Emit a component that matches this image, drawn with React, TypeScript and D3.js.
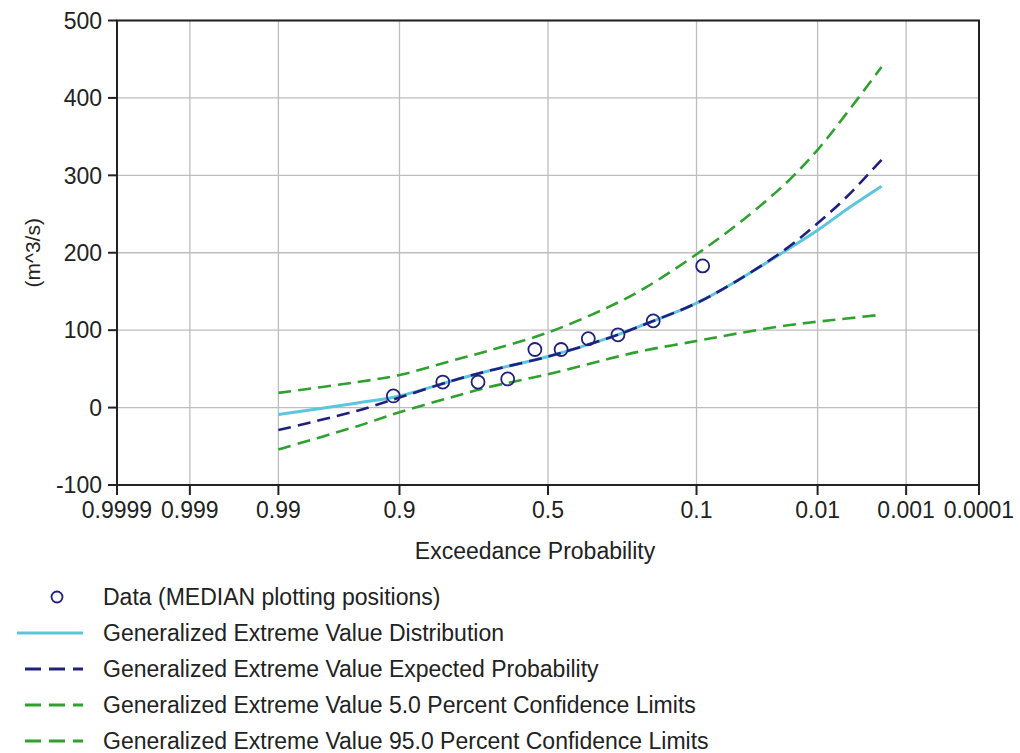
import React from 'react';
import * as d3 from 'd3';

// exceedance probabilities shown on the x axis
const xTicks = [0.9999, 0.999, 0.99, 0.9, 0.5, 0.1, 0.01, 0.001, 0.0001];
const xTickLabels = ['0.9999', '0.999', '0.99', '0.9', '0.5', '0.1', '0.01', '0.001', '0.0001'];
const yTicks = [-100, 0, 100, 200, 300, 400, 500];

// observed data (median plotting positions)
const dataProbs = [0.909, 0.818, 0.727, 0.636, 0.545, 0.455, 0.364, 0.273, 0.182, 0.091];
const dataValues = [15, 33, 33, 37, 75, 75, 89, 94, 112, 183];

// fitted curves
const curveProbs = [0.99, 0.95, 0.9, 0.8, 0.7, 0.5, 0.3, 0.2, 0.1, 0.05, 0.02, 0.01, 0.005, 0.002];
const gevDist = [-9, 6, 15, 34, 47, 66, 90, 108, 135, 165, 203, 229, 256, 286];
const gevExpected = [-29, -4, 13, 34, 47, 66, 90, 108, 135, 165, 205, 238, 272, 320];
const conf5 = [19, 33, 42, 60, 73, 97, 130, 155, 198, 238, 290, 333, 380, 440];
const conf95 = [-54, -24, -6, 13, 26, 43, 63, 74, 86, 96, 106, 111, 115, 120];

const legendLabels = [
  'Data (MEDIAN plotting positions)',
  'Generalized Extreme Value Distribution',
  'Generalized Extreme Value Expected Probability',
  'Generalized Extreme Value 5.0 Percent Confidence Limits',
  'Generalized Extreme Value 95.0 Percent Confidence Limits',
];

const CYAN = '#5cc6dd';
const NAVY = '#20207f';
const GREEN = '#2fa12f';
const FONT = '"Liberation Sans", Arial, sans-serif';

// inverse standard normal CDF (Acklam)
function normInv(p: number): number {
  const a = [-39.69683028665376, 220.9460984245205, -275.9285104469687, 138.357751867269, -30.66479806614716, 2.506628277459239];
  const b = [-54.47609879822406, 161.5858368580409, -155.6989798598866, 66.80131188771972, -13.28068155288572];
  const c = [-0.007784894002430293, -0.3223964580411365, -2.400758277161838, -2.549732539343734, 4.374664141464968, 2.938163982698783];
  const d = [0.007784695709041462, 0.3224671290700398, 2.445134137142996, 3.754408661907416];
  const pl = 0.02425;
  if (p < pl) {
    const q = Math.sqrt(-2 * Math.log(p));
    return (((((c[0] * q + c[1]) * q + c[2]) * q + c[3]) * q + c[4]) * q + c[5]) / ((((d[0] * q + d[1]) * q + d[2]) * q + d[3]) * q + 1);
  }
  if (p > 1 - pl) {
    const q = Math.sqrt(-2 * Math.log(1 - p));
    return -(((((c[0] * q + c[1]) * q + c[2]) * q + c[3]) * q + c[4]) * q + c[5]) / ((((d[0] * q + d[1]) * q + d[2]) * q + d[3]) * q + 1);
  }
  const q = p - 0.5;
  const r = q * q;
  return (((((a[0] * r + a[1]) * r + a[2]) * r + a[3]) * r + a[4]) * r + a[5]) * q / (((((b[0] * r + b[1]) * r + b[2]) * r + b[3]) * r + b[4]) * r + 1);
}

const left = 117, right = 979, top = 20.5, bottom = 485;

const zScale = d3.scaleLinear()
  .domain([normInv(1 - 0.9999), normInv(1 - 0.0001)])
  .range([left, right]);
const x = (p: number) => zScale(normInv(1 - p));
const y = d3.scaleLinear().domain([-100, 500]).range([bottom, top]);

const line = d3.line<number>()
  .x((_, i) => x(curveProbs[i]))
  .y(v => y(v))
  .curve(d3.curveCatmullRom.alpha(0.5));

const App = () => {
  const series = [
    { values: gevDist, color: CYAN, dash: null, width: 3 },
    { values: conf5, color: GREEN, dash: '13,7', width: 2.6 },
    { values: conf95, color: GREEN, dash: '13,7', width: 2.6 },
    { values: gevExpected, color: NAVY, dash: '13,7', width: 2.6 },
  ];
  const legendY = [597, 633, 669, 705, 741];

  return (
    <svg width={1020} height={753} style={{ position: 'absolute', left: 0, top: 0, background: '#fff' }}
      fontFamily={FONT}>
      {/* grid */}
      {yTicks.map(t => (
        <line key={'gy' + t} x1={left} x2={right} y1={y(t)} y2={y(t)} stroke="#bdbdbd" strokeWidth={1.3} />
      ))}
      {xTicks.map(t => (
        <line key={'gx' + t} x1={x(t)} x2={x(t)} y1={top} y2={bottom} stroke="#bdbdbd" strokeWidth={1.3} />
      ))}

      {/* curves */}
      {series.map((s, i) => (
        <path key={i} d={line(s.values) || ''} fill="none" stroke={s.color}
          strokeWidth={s.width} strokeDasharray={s.dash || undefined} />
      ))}

      {/* data points */}
      {dataProbs.map((p, i) => (
        <circle key={'d' + i} cx={x(p)} cy={y(dataValues[i])} r={6.5} fill="none" stroke={NAVY} strokeWidth={1.8} />
      ))}

      {/* frame */}
      <rect x={left} y={top} width={right - left} height={bottom - top} fill="none" stroke="#222" strokeWidth={2} />

      {/* y axis */}
      {yTicks.map(t => (
        <g key={'ty' + t}>
          <line x1={left - 9} x2={left} y1={y(t)} y2={y(t)} stroke="#222" strokeWidth={2} />
          <text x={left - 15} y={y(t)} dy="0.36em" textAnchor="end" fontSize={23} fill="#222">{t}</text>
        </g>
      ))}
      <text transform={`translate(40,${(top + bottom) / 2}) rotate(-90)`} textAnchor="middle"
        fontSize={21} fill="#222">(m^3/s)</text>

      {/* x axis */}
      {xTicks.map((t, i) => (
        <g key={'tx' + t}>
          <line x1={x(t)} x2={x(t)} y1={bottom} y2={bottom + 10} stroke="#222" strokeWidth={2} />
          <text x={x(t)} y={bottom + 33} textAnchor="middle" fontSize={23} fill="#222">{xTickLabels[i]}</text>
        </g>
      ))}
      <text x={(left + right) / 2 - 13} y={559} textAnchor="middle" fontSize={23} fill="#222">Exceedance Probability</text>

      {/* legend */}
      <circle cx={57} cy={legendY[0]} r={5.5} fill="none" stroke={NAVY} strokeWidth={1.8} />
      <line x1={17} x2={83} y1={legendY[1]} y2={legendY[1]} stroke={CYAN} strokeWidth={3} />
      <line x1={17} x2={83} y1={legendY[2]} y2={legendY[2]} stroke={NAVY} strokeWidth={3} strokeDasharray="16,8" strokeDashoffset={-8} />
      <line x1={17} x2={83} y1={legendY[3]} y2={legendY[3]} stroke={GREEN} strokeWidth={3} strokeDasharray="16,8" strokeDashoffset={-8} />
      <line x1={17} x2={83} y1={legendY[4]} y2={legendY[4]} stroke={GREEN} strokeWidth={3} strokeDasharray="16,8" strokeDashoffset={-8} />
      {legendLabels.map((l, i) => (
        <text key={l} x={103} y={legendY[i]} dy="0.36em" fontSize={23} fill="#222">{l}</text>
      ))}
    </svg>
  );
};

export default App;
